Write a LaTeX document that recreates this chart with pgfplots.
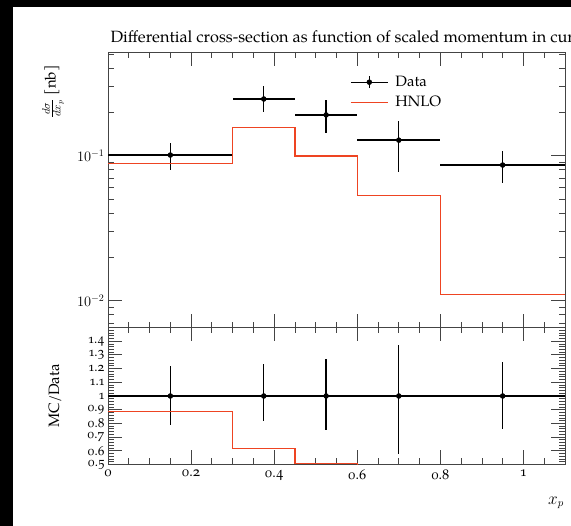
\documentclass[border=0pt]{standalone}
\usepackage{fontspec}
\setmainfont{TeX Gyre Pagella}[Numbers=OldStyle]
\usepackage{pgfplots}
\pgfplotsset{compat=1.18}
\definecolor{hnlo}{HTML}{EE4422}
\definecolor{frame}{HTML}{444444}

\pgfplotsset{rivet/.style={
  scale only axis, width=457pt, xmin=0, xmax=1.1,
  xtick={0,0.2,0.4,0.6,0.8,1.0},
  minor xtick={0.05,0.1,0.15,0.25,0.3,0.35,0.45,0.5,0.55,0.65,0.7,0.75,0.85,0.9,0.95,1.05},
  tick align=inside, major tick length=14pt, minor tick length=6pt,
  axis line style={frame, line width=0.8pt},
  tick style={frame, line width=0.8pt},
  xticklabel style={font=\fontsize{14}{15}\selectfont},
  yticklabel style={font=\fontsize{13}{14}\selectfont},
  clip=true,
}}

\begin{document}
\begin{tikzpicture}[x=1pt,y=1pt]
\useasboundingbox (0,0) rectangle (571,526);
\clip (0,0) rectangle (571,526);
\fill[white] (0,0) rectangle (571,526);
\fill[black] (0,0) rectangle (13,526);
\fill[black] (0,519) rectangle (571,526);

% main panel
\begin{axis}[rivet, at={(108pt,198.5pt)}, anchor=south west, height=275.5pt,
  ymode=log, ymin=0.00653, ymax=0.519,
  ytick={0.01,0.1},
  minor ytick={0.007,0.008,0.009,0.02,0.03,0.04,0.05,0.06,0.07,0.08,0.09,0.2,0.3,0.4,0.5},
  xticklabels={},
  yticklabel style={font=\fontsize{14}{15}\selectfont},
  legend style={at={(rel axis cs:0.5295,0.92)}, anchor=north west, draw=none, fill=none,
    font=\fontsize{15}{17}\selectfont, row sep=4pt, inner sep=0pt,
    /tikz/every odd column/.append style={column sep=5pt}},
  legend cell align=left,
]
\addplot[only marks, mark=*, mark size=2.5pt, black,
  legend image code/.code={
    \draw[black,line width=1.3pt] (0pt,0pt) -- (37pt,0pt);
    \draw[black,line width=1.3pt] (18.5pt,-6pt) -- (18.5pt,6pt);
    \fill[black] (18.5pt,0pt) circle (2.5pt);},
  error bars/.cd, x dir=both, x explicit, y dir=both, y explicit,
  error mark=none, error bar style={line width=1.3pt, black}]
coordinates {
  (0.15,0.101)  += (0.15,0.021)  -= (0.15,0.021)
  (0.375,0.246) += (0.075,0.058) -= (0.075,0.045)
  (0.525,0.191) += (0.075,0.051) -= (0.075,0.047)
  (0.7,0.128)   += (0.1,0.045)   -= (0.1,0.051)
  (0.95,0.0862) += (0.15,0.021)  -= (0.15,0.021)
};
\addlegendentry{Data}
\addplot[const plot, hnlo, line width=1.1pt,
  legend image code/.code={\draw[hnlo,line width=1.1pt] (0pt,0pt) -- (37pt,0pt);}]
coordinates {(0,0.0886) (0.3,0.156) (0.45,0.0995) (0.6,0.0528) (0.8,0.01107) (1.1,0.01107)};
\addlegendentry{HNLO}
\end{axis}

% ratio panel
\begin{axis}[rivet, at={(108pt,61.5pt)}, anchor=south west, height=137pt,
  ymin=0.5, ymax=1.5,
  ytick={0.5,0.6,0.7,0.8,0.9,1.0,1.1,1.2,1.3,1.4},
  yticklabels={0.5,0.6,0.7,0.8,0.9,1,1.1,1.2,1.3,1.4},
  minor ytick={0.52,0.54,0.56,0.58,0.62,0.64,0.66,0.68,0.72,0.74,0.76,0.78,0.82,0.84,0.86,0.88,0.92,0.94,0.96,0.98,1.02,1.04,1.06,1.08,1.12,1.14,1.16,1.18,1.22,1.24,1.26,1.28,1.32,1.34,1.36,1.38,1.42,1.44,1.46,1.48},
  xticklabels={0,0.2,0.4,0.6,0.8,1},
  xticklabel style={yshift=-2pt},
]
\addplot[only marks, mark=*, mark size=2.5pt, black,
  error bars/.cd, x dir=both, x explicit, y dir=both, y explicit,
  error mark=none, error bar style={line width=1.3pt, black}]
coordinates {
  (0.15,1)  += (0.15,0.22)  -= (0.15,0.21)
  (0.375,1) += (0.075,0.236) -= (0.075,0.183)
  (0.525,1) += (0.075,0.27) -= (0.075,0.25)
  (0.7,1)   += (0.1,0.37)   -= (0.1,0.42)
  (0.95,1)  += (0.15,0.25)  -= (0.15,0.24)
};
\addplot[const plot, hnlo, line width=1.1pt]
coordinates {(0,0.885) (0.3,0.62) (0.45,0.51) (0.6,0.41) (0.8,0.128) (1.1,0.128)};
\end{axis}

\node[anchor=base west, font=\fontsize{16.3}{18}\selectfont] at (107,483)
  {Differential cross-section as function of scaled momentum in current region};
\node[rotate=90, anchor=east, font=\fontsize{15}{17}\selectfont] at (53,464)
  {$\frac{d\sigma}{dx_p}$ [nb]};
\node[rotate=90, font=\fontsize{15}{17}\selectfont] at (55,130) {MC/Data};
\node[font=\fontsize{16}{18}\selectfont] at (556,23) {$x_p$};
\end{tikzpicture}
\end{document}
